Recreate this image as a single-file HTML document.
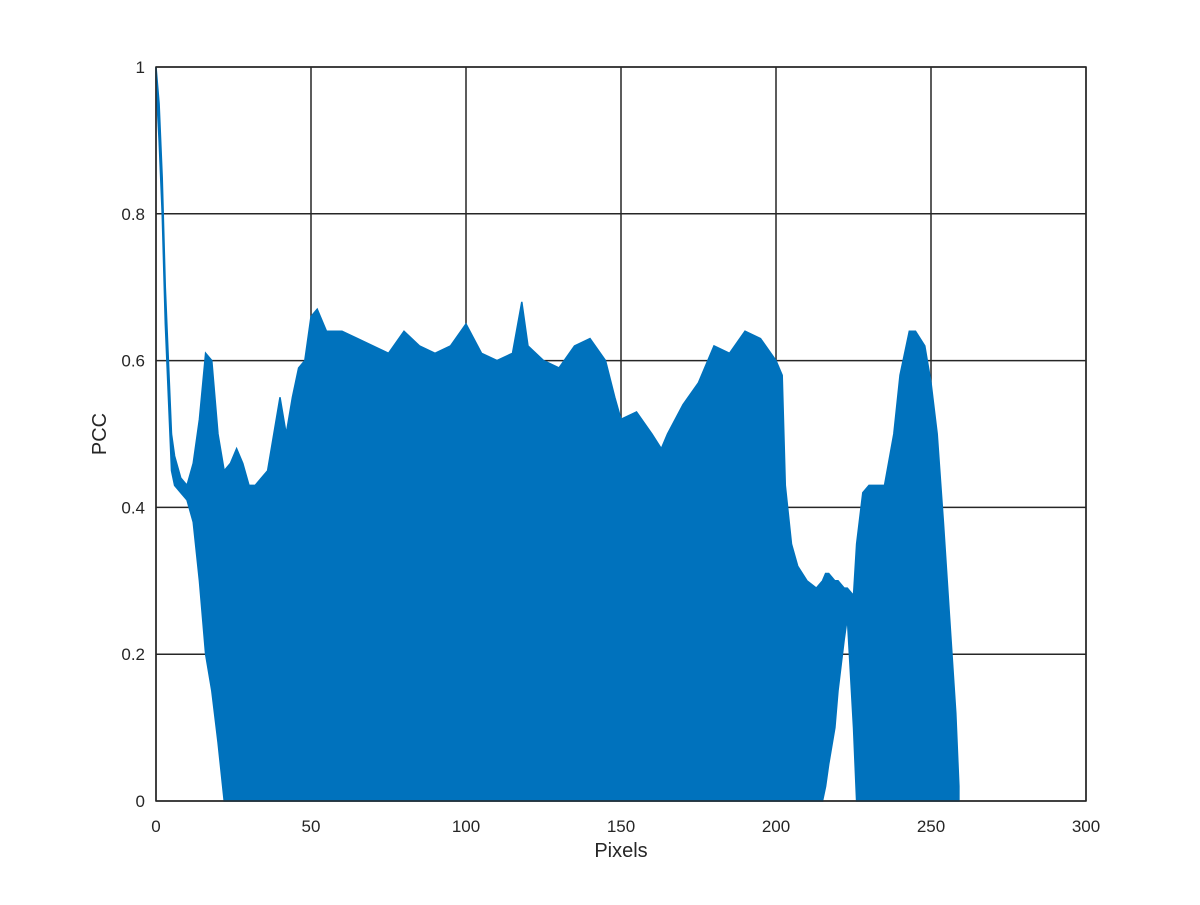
<!DOCTYPE html>
<html><head><meta charset="utf-8"><style>
body{margin:0;background:#fff;font-family:"Liberation Sans",sans-serif}
svg text{font-family:"Liberation Sans",sans-serif;font-size:17px;fill:#262626}
</style></head><body>
<svg width="1200" height="900">
<rect x="0" y="0" width="1200" height="900" fill="#fff"/>
<g id="grid"></g>
<g id="series"></g>
<rect x="156" y="67" width="930" height="734" fill="none" stroke="#262626" stroke-width="1.5"/>
<g id="ticks"></g>
<text x="621" y="857" text-anchor="middle" style="font-size:20px">Pixels</text>
<text transform="translate(106,434) rotate(-90)" text-anchor="middle" style="font-size:20px">PCC</text>
</svg>
<script>
const xTicks=[0,50,100,150,200,250,300];
const yTicks=[0,0.2,0.4,0.6,0.8,1];
const yTickLabels=["0","0.2","0.4","0.6","0.8","1"];
const xs=[0,1,2,3,4,5,6,8,10,12,14,16,18,20,22,24,26,28,30,32,34,36,38,40,42,44,46,48,50,52,55,60,65,70,75,80,85,90,95,100,105,110,115,118,120,125,130,135,140,145,148,150,155,160,163,165,170,175,180,185,190,195,200,202,203,205,207,210,213,215,216,217,219,220,222,223,225,226,228,230,235,238,240,243,245,248,250,252,254,256,258,259];
const upper=[1.0,0.95,0.85,0.7,0.6,0.5,0.47,0.44,0.43,0.46,0.52,0.61,0.6,0.5,0.45,0.46,0.48,0.46,0.43,0.43,0.44,0.45,0.5,0.55,0.5,0.55,0.59,0.6,0.66,0.67,0.64,0.64,0.63,0.62,0.61,0.64,0.62,0.61,0.62,0.65,0.61,0.6,0.61,0.68,0.62,0.6,0.59,0.62,0.63,0.6,0.55,0.52,0.53,0.5,0.48,0.5,0.54,0.57,0.62,0.61,0.64,0.63,0.6,0.58,0.43,0.35,0.32,0.3,0.29,0.3,0.31,0.31,0.3,0.3,0.29,0.29,0.28,0.35,0.42,0.43,0.43,0.5,0.58,0.64,0.64,0.62,0.57,0.5,0.38,0.25,0.12,0.02];
const lower=[0.98,0.9,0.8,0.65,0.55,0.45,0.43,0.42,0.41,0.38,0.3,0.2,0.15,0.08,0,0,0,0,0,0,0,0,0,0,0,0,0,0,0,0,0,0,0,0,0,0,0,0,0,0,0,0,0,0,0,0,0,0,0,0,0,0,0,0,0,0,0,0,0,0,0,0,0,0,0,0,0,0,0,0,0.02,0.05,0.1,0.15,0.22,0.25,0.1,0,0,0,0,0,0,0,0,0,0,0,0,0,0,0];
const X=v=>156+v*3.1, Y=v=>801-v*734;
const NS="http://www.w3.org/2000/svg";
const grid=document.getElementById('grid'),ticks=document.getElementById('ticks'),ser=document.getElementById('series');
xTicks.forEach(t=>{
 const l=document.createElementNS(NS,'line');
 
 
 l.setAttribute('x1',X(t));l.setAttribute('x2',X(t));l.setAttribute('y1',67);l.setAttribute('y2',801);
 l.setAttribute('stroke','#262626');l.setAttribute('stroke-width','1.5');grid.appendChild(l);
 const s=document.createElementNS(NS,'text');
 
 
 s.setAttribute('x',X(t));s.setAttribute('y',832);s.setAttribute('text-anchor','middle');s.textContent=t;ticks.appendChild(s);
});
yTicks.forEach((t,i)=>{
 const l=document.createElementNS(NS,'line');
 
 
 l.setAttribute('x1',156);l.setAttribute('x2',1086);l.setAttribute('y1',Y(t));l.setAttribute('y2',Y(t));
 l.setAttribute('stroke','#262626');l.setAttribute('stroke-width','1.5');grid.appendChild(l);
 const s=document.createElementNS(NS,'text');
 
 
 s.setAttribute('x',145);s.setAttribute('y',Y(t)+6);s.setAttribute('text-anchor','end');s.textContent=yTickLabels[i];ticks.appendChild(s);
});
let d='M'+X(xs[0])+','+Y(upper[0]);
for(let i=1;i<xs.length;i++)d+=' L'+X(xs[i])+','+Y(upper[i]);
for(let i=xs.length-1;i>=0;i--)d+=' L'+X(xs[i])+','+Y(lower[i]);
d+='Z';
const p=document.createElementNS(NS,'path');


p.setAttribute('d',d);p.setAttribute('fill','#0072BD');p.setAttribute('stroke','#0072BD');p.setAttribute('stroke-width','1.5');
ser.appendChild(p);
</script>
</body></html>
